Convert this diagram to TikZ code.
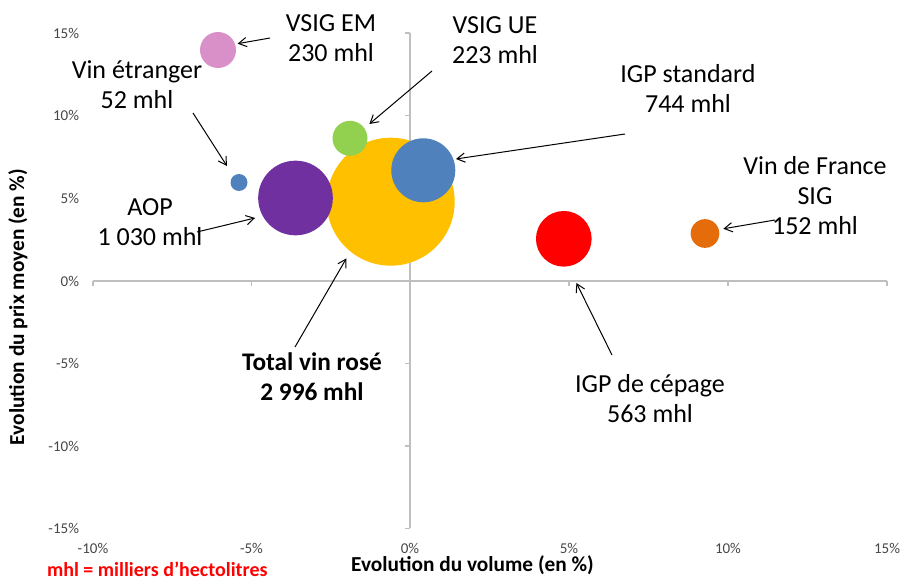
\documentclass[tikz,border=0pt]{standalone}
\usepackage{fontspec}
\setmainfont{Carlito}
\usepackage{tikz}
\usetikzlibrary{positioning,arrows.meta}

\definecolor{axisgray}{RGB}{191,191,191}
\definecolor{tickgray}{RGB}{70,70,70}
\definecolor{bpink}{RGB}{217,143,199}
\definecolor{bblue}{RGB}{79,129,189}
\definecolor{bpurple}{RGB}{112,48,160}
\definecolor{byellow}{RGB}{255,192,0}
\definecolor{bgreen}{RGB}{146,208,80}
\definecolor{bred}{RGB}{255,0,0}
\definecolor{borange}{RGB}{228,108,10}

\begin{document}
\begin{tikzpicture}[x=0.75pt, y=-0.75pt,
    every node/.style={
      inner sep=0pt,
      outer sep=0pt,
    },
    bubble/.style={circle, fill=#1, draw=none},
    lbl/.style={align=center, font=\fontsize{19.5}{22.5}\selectfont},
    ticklbl/.style={font=\fontsize{11.25}{13}\selectfont, text=tickgray},
    axtitle/.style={font=\fontsize{16}{19}\selectfont\bfseries},
    >={Straight Barb[length=6pt,width=7pt]}, line width=0.75pt]

  \useasboundingbox (0,0) rectangle (901,578);

  % axes
  \draw[axisgray, line width=1.2pt] (93,281) -- (887,281);
  \draw[axisgray, line width=1.2pt] (410,33) -- (410,528);
  \foreach \x/\t in {93/-10\%, 251.5/-5\%, 410/0\%, 569/5\%, 728/10\%, 887/15\%} {
    \draw[axisgray, line width=1.2pt] (\x,281) -- (\x,286);
    \node[ticklbl] at (\x,548.5) {\t};
  }
  \foreach \y/\t in {33/15\%, 115.5/10\%, 198/5\%, 281/0\%, 363.5/-5\%, 446/-10\%, 528.5/-15\%} {
    \draw[axisgray, line width=1.2pt] (405,\y) -- (410,\y);
    \node[ticklbl, anchor=east] at (79,\y) {\t};
  }

  \node[axtitle, anchor=base] (xtitle) at (472.5,571) {Evolution du volume (en \%)};
  \node[axtitle, rotate=90] (ytitle) at (18,307) {Evolution du prix moyen (en \%)};
  \node[axtitle, font=\fontsize{15}{18}\selectfont\bfseries, text=red, anchor=base west] (note) at (47,576) {mhl = milliers d’hectolitres};

  % bubbles
  \node[bubble=byellow, minimum size=96pt] (b6) at (390.7,201.7) {};
  \node[bubble=bpink, minimum size=27pt] (b0) at (218,50) {};
  \node[bubble=bblue, minimum size=12.75pt] (b1) at (239,182.5) {};
  \node[bubble=bpurple, minimum size=56pt] (b2) at (295.5,198) {};
  \node[bubble=bgreen, minimum size=26.25pt] (b3) at (350,138.3) {};
  \node[bubble=bblue, minimum size=48pt] (b4) at (423.3,170.3) {};
  \node[bubble=borange, minimum size=21.5pt] (b5) at (705,233.5) {};
  \node[bubble=bred, minimum size=41.75pt] (b7) at (563.8,238.8) {};

  % labels
  \node[lbl] (l0) at (331,38) {VSIG EM\\230 mhl};
  \node[lbl] (l1) at (137,85) {Vin étranger\\52 mhl};
  \node[lbl] (l2) at (150,222) {AOP\\1 030 mhl};
  \node[lbl] (l3) at (495,40) {VSIG UE\\223 mhl};
  \node[lbl] (l4) at (688,88) {IGP standard\\744 mhl};
  \node[lbl] (l5) at (815,196) {Vin de France\\SIG\\152 mhl};
  \node[lbl, font=\fontsize{19}{22.5}\selectfont\bfseries] (l6) at (312,377) {Total vin rosé\\2 996 mhl};
  \node[lbl] (l7) at (650,399) {IGP de cépage\\563 mhl};

  \coordinate (c0) at (270,38);
  \coordinate (c1) at (193,113);
  \coordinate (c2) at (197,232);
  \coordinate (c3) at (432,71);
  \coordinate (c4) at (625,134);
  \coordinate (c5) at (775,220);
  \coordinate (c6) at (295,347);
  \coordinate (c7) at (612,355);

  \draw[->, shorten >=2pt] (c0) -- (b0.19);
  \draw[->, shorten >=9pt] (c1) -- (b1.131);
  \draw[->, shorten >=6pt] (c2) -- (b2.209);
  \draw[->, shorten >=5pt] (c3) -- (b3.35);
  \draw[->, shorten >=2pt] (c4) -- (b4.20);
  \draw[->, shorten >=3.5pt] (c5) -- (b5.16);
  \draw[->, shorten >=6pt] (c6) -- (b6.231);
  \draw[->, shorten >=14pt] (c7) -- (b7.-81);

\end{tikzpicture}
\end{document}
